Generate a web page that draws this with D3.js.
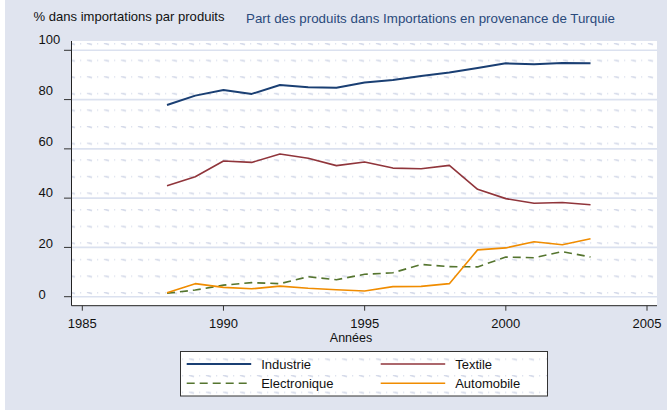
<!DOCTYPE html>
<html><head><meta charset="utf-8">
<script src="https://cdn.jsdelivr.net/npm/d3@7"></script>
<style>
html,body{margin:0;padding:0;background:#fff;}
svg, svg text{font-family:"Liberation Sans",Arial,Helvetica,sans-serif;}
</style></head>
<body>
<svg id="chart" width="667" height="410"></svg>
<script>
// ---- data ----
const years = [1988,1989,1990,1991,1992,1993,1994,1995,1996,1997,1998,1999,2000,2001,2002,2003];
const industrie    = [77.8,81.6,83.9,82.3,85.9,85.0,84.8,86.9,87.9,89.6,91.0,92.8,94.7,94.3,94.8,94.7];
const textile      = [45.0,48.7,55.1,54.5,57.9,56.2,53.2,54.7,52.2,51.9,53.3,43.6,39.8,37.9,38.2,37.3];
const electronique = [1.4,2.7,4.7,5.7,5.3,8.1,6.9,9.1,9.7,13.1,12.2,12.1,16.1,15.8,18.3,16.1];
const automobile   = [1.6,5.3,3.8,3.2,4.3,3.4,2.8,2.3,4.1,4.2,5.3,19.0,19.8,22.3,21.1,23.5];
const seriesNames  = ["Industrie","Textile","Electronique","Automobile"];
const yTicks = [0,20,40,60,80,100];
const xTicks = [1985,1990,1995,2000,2005];
const yTitle = "% dans importations par produits";
const chartTitle = "Part des produits dans Importations en provenance de Turquie";
const xTitle = "Années";

const colors = ["#1a3f73","#90353b","#55752f","#f08c00"];
const widths = [2,1.6,1.6,1.6];
const dashes = [null,null,"8,5",null];
const seriesData = [industrie,textile,electronique,automobile];

const svg = d3.select("#chart");
const bg = "#e0e4ef";
const FONT = "'Liberation Sans', Arial, Helvetica, sans-serif";

// background
svg.append("rect").attr("x",0).attr("y",0).attr("width",667).attr("height",410).attr("fill","#fff");
svg.append("rect").attr("x",5).attr("y",0).attr("width",662).attr("height",410).attr("fill",bg);

// pattern
const defs = svg.append("defs");
const pat = defs.append("pattern").attr("id","tex").attr("patternUnits","userSpaceOnUse")
  .attr("x",0).attr("y",43).attr("width",17).attr("height",16.6);
pat.append("rect").attr("width",17).attr("height",16.6).attr("fill","#fff");
pat.append("path").attr("d","M2,0.2 L7,1.6").attr("stroke","#d6dbea").attr("stroke-width",1.7);
pat.append("rect").attr("x",12).attr("y",0).attr("width",1.2).attr("height",1.5).attr("fill","#dfe3ef");

const plotL = 71.5, plotR = 657, plotT = 41, plotB = 305.7;
const x = d3.scaleLinear().domain([1985,2005]).range([82.3,647]);
const y = d3.scaleLinear().domain([0,100]).range([296.7,50.3]);
const yLab = d3.scaleLinear().domain([0,100]).range([299.3,44.3]);

svg.append("rect").attr("x",plotL).attr("y",plotT).attr("width",plotR-plotL).attr("height",plotB-plotT)
  .attr("fill","url(#tex)");

// grid
svg.append("g").selectAll("line").data(yTicks).join("line")
  .attr("x1",plotL).attr("x2",plotR).attr("y1",d=>y(d)).attr("y2",d=>y(d))
  .attr("stroke","#dbe1ef").attr("stroke-width",1.6);

// y axis
svg.append("line").attr("x1",plotL).attr("x2",plotL).attr("y1",plotT).attr("y2",plotB)
  .attr("stroke","#222").attr("stroke-width",1);
svg.append("g").selectAll("line").data(yTicks).join("line")
  .attr("x1",64).attr("x2",plotL).attr("y1",d=>y(d)).attr("y2",d=>y(d))
  .attr("stroke","#333").attr("stroke-width",1);
svg.append("g").selectAll("text").data(yTicks).join("text")
  .attr("x",38.5).attr("y",d=>yLab(d)).attr("font-size",13).attr("font-family",FONT).attr("fill","#111")
  .text(d=>d);

// x axis
svg.append("line").attr("x1",plotL).attr("x2",plotR).attr("y1",plotB).attr("y2",plotB)
  .attr("stroke","#222").attr("stroke-width",1);
svg.append("g").selectAll("line").data(xTicks).join("line")
  .attr("x1",d=>x(d)).attr("x2",d=>x(d)).attr("y1",plotB).attr("y2",plotB+5)
  .attr("stroke","#333").attr("stroke-width",1);
svg.append("g").selectAll("text").data(xTicks).join("text")
  .attr("x",d=>x(d)).attr("y",327.5).attr("font-size",13).attr("font-family",FONT).attr("text-anchor","middle").attr("fill","#111")
  .text(d=>d);

// lines
const line = d3.line().x((d,i)=>x(years[i])).y(d=>y(d));
seriesData.forEach((s,k)=>{
  svg.append("path").datum(s).attr("d",line).attr("fill","none")
    .attr("stroke",colors[k]).attr("stroke-width",widths[k])
    .attr("stroke-dasharray",dashes[k]).attr("stroke-linejoin","round");
});

// titles
svg.append("text").attr("x",33.5).attr("y",20.5).attr("font-size",13.2).attr("font-family",FONT).attr("fill","#111")
  .attr("textLength",191).attr("lengthAdjust","spacingAndGlyphs").text(yTitle);
svg.append("text").attr("x",246).attr("y",22.5).attr("font-size",13.3).attr("font-family",FONT).attr("fill","#2a4a7c")
  .attr("textLength",369).attr("lengthAdjust","spacingAndGlyphs").text(chartTitle);
svg.append("text").attr("x",351).attr("y",341.5).attr("font-size",12.5).attr("font-family",FONT).attr("text-anchor","middle").attr("fill","#111").text(xTitle);

// legend
svg.append("rect").attr("x",180.5).attr("y",351.5).attr("width",367).attr("height",44.5)
  .attr("fill","url(#tex)").attr("stroke","#333").attr("stroke-width",1);
const legPos = [[186.7,364],[380.7,364],[186.7,383.3],[380.7,383.3]];
seriesNames.forEach((n,k)=>{
  const [lx,ly] = legPos[k];
  svg.append("line").attr("x1",lx).attr("x2",lx+64.5).attr("y1",ly).attr("y2",ly)
    .attr("stroke",colors[k]).attr("stroke-width",widths[k]).attr("stroke-dasharray",dashes[k]);
  svg.append("text").attr("x",lx+74.5).attr("y",ly+4.5).attr("font-size",13).attr("font-family",FONT).attr("fill","#111").text(n);
});
</script>
</body></html>
